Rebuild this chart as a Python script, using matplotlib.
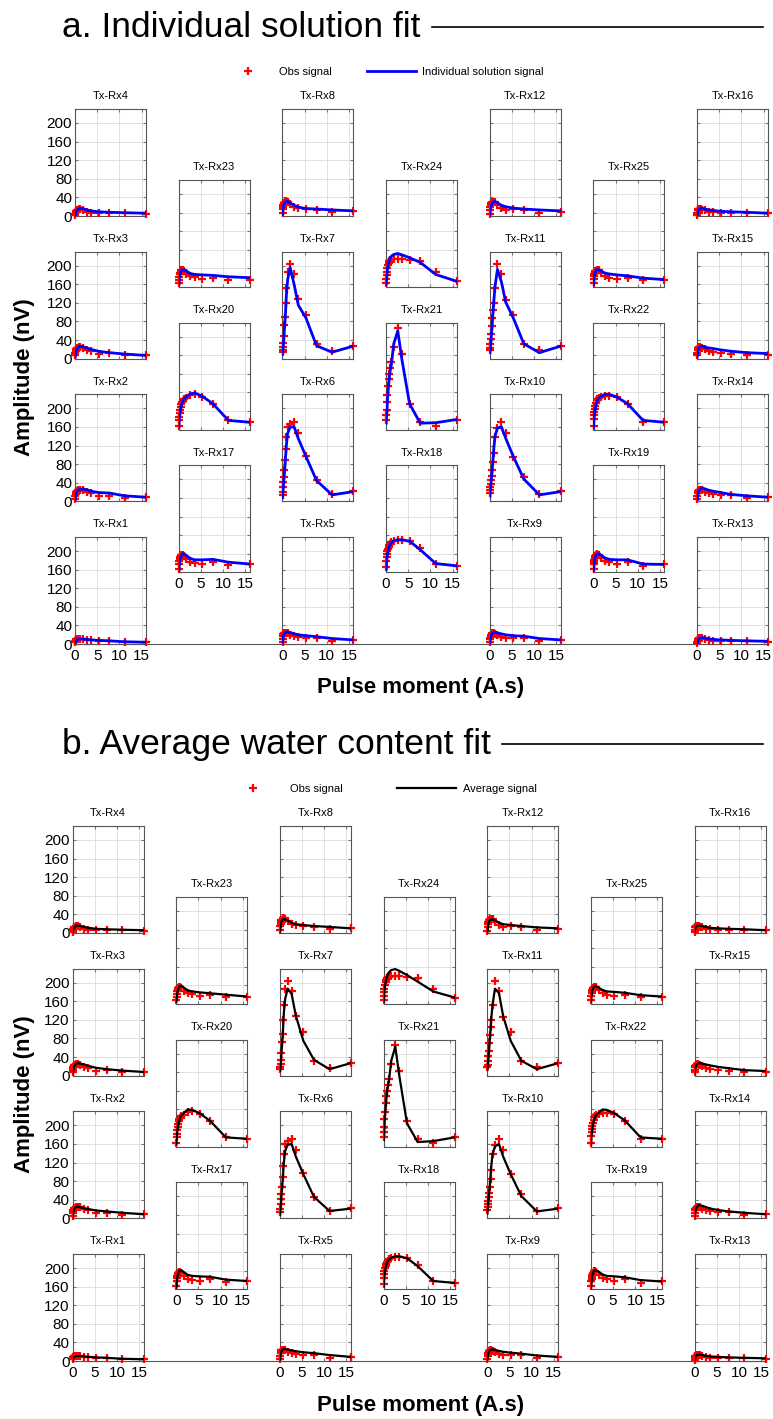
import matplotlib.pyplot as plt
from matplotlib.lines import Line2D

plt.rcParams['font.family'] = ['Liberation Sans', 'DejaVu Sans']

W, H = 773, 1419  # figure size in pixels

# pulse moments (A.s)
q = [0.05, 0.1, 0.15, 0.22, 0.3, 0.45, 0.6, 0.75, 0.9, 1.2, 1.75, 2.65, 3.6, 5.3, 7.7, 11.2, 16.0]

# receiver number shown in each column, top to bottom
columns = [[4, 3, 2, 1], [23, 20, 17], [8, 7, 6, 5], [24, 21, 18],
           [12, 11, 10, 9], [25, 22, 19], [16, 15, 14, 13]]

x_ticks = [0, 5, 10, 15]
y_ticks = [0, 40, 80, 120, 160, 200]

obs_signal = {
    1: [4, 6, 8, 9, 10, 11, 11, 11, 11, 11, 10, 9, 9, 7, 7, 5, 4],
    2: [6, 11, 15, 18, 20, 22, 23, 24, 25, 25, 24, 21, 17, 12, 12, 8, 9],
    3: [7, 12, 16, 18, 20, 22, 23, 24, 25, 25, 23, 18, 16, 11, 12, 7, 9],
    4: [2, 5, 8, 9, 11, 12, 13, 13, 14, 14, 13, 9, 7, 6, 6, 7, 4],
    5: [5, 12, 18, 21, 23, 24, 24, 24, 24, 23, 20, 17, 16, 14, 13, 7, 9],
    6: [13, 20, 31, 42, 52, 68, 88, 112, 138, 160, 166, 171, 146, 97, 47, 15, 22],
    7: [14, 18, 25, 34, 48, 72, 90, 119, 153, 187, 203, 182, 128, 93, 32, 17, 28],
    8: [6, 14, 20, 24, 27, 29, 31, 32, 32, 30, 26, 19, 17, 15, 13, 8, 11],
    9: [5, 10, 14, 18, 20, 22, 23, 23, 23, 22, 19, 16, 14, 14, 13, 7, 9],
    10: [17, 24, 31, 38, 45, 55, 68, 85, 105, 139, 157, 171, 146, 96, 52, 15, 22],
    11: [18, 24, 32, 43, 54, 70, 88, 104, 119, 151, 203, 183, 127, 94, 31, 18, 27],
    12: [4, 12, 20, 24, 27, 29, 30, 31, 31, 30, 24, 17, 13, 14, 13, 7, 9],
    13: [2, 5, 9, 11, 12, 13, 13, 13, 13, 13, 11, 9, 7, 6, 6, 6, 5],
    14: [6, 12, 17, 20, 22, 24, 25, 25, 25, 24, 21, 17, 15, 13, 13, 7, 9],
    15: [7, 13, 18, 21, 23, 25, 25, 25, 24, 23, 20, 16, 14, 12, 11, 7, 9],
    16: [2, 7, 12, 13, 14, 14, 14, 14, 14, 13, 12, 9, 8, 7, 7, 6, 6],
    17: [7, 18, 25, 29, 33, 36, 37, 37, 37, 36, 29, 22, 20, 19, 22, 16, 18],
    18: [11, 25, 33, 40, 45, 50, 55, 59, 62, 65, 68, 70, 70, 68, 53, 18, 13],
    19: [7, 17, 22, 27, 31, 36, 38, 40, 40, 38, 32, 25, 22, 19, 22, 14, 18],
    20: [9, 20, 27, 35, 42, 49, 55, 59, 62, 65, 69, 74, 76, 70, 56, 20, 16],
    21: [20, 31, 42, 60, 75, 95, 108, 120, 132, 145, 178, 218, 162, 56, 17, 9, 20],
    22: [9, 24, 32, 38, 45, 52, 58, 63, 66, 68, 70, 72, 72, 70, 56, 17, 16],
    23: [8, 15, 22, 27, 31, 35, 37, 37, 37, 35, 29, 24, 21, 17, 19, 16, 16],
    24: [8, 18, 26, 33, 40, 48, 52, 55, 57, 59, 60, 61, 60, 58, 55, 33, 13],
    25: [9, 18, 24, 28, 31, 34, 35, 36, 37, 36, 30, 24, 19, 17, 19, 16, 16],
}

individual_signal = {
    1: [2, 4, 6, 7, 8, 9, 10, 10, 11, 11, 11, 10, 9, 8, 7, 5, 4],
    2: [4, 8, 12, 15, 18, 21, 23, 24, 25, 26, 27, 25, 22, 19, 18, 12, 9],
    3: [4, 8, 12, 15, 18, 21, 23, 25, 26, 27, 26, 23, 20, 16, 13, 10, 7],
    4: [1, 3, 6, 8, 10, 12, 14, 15, 16, 17, 16, 13, 11, 9, 8, 7, 6],
    5: [3, 7, 12, 16, 19, 22, 24, 25, 26, 26, 25, 22, 20, 18, 16, 12, 9],
    6: [8, 14, 22, 32, 42, 58, 76, 98, 120, 146, 160, 160, 135, 97, 45, 14, 21],
    7: [10, 14, 20, 28, 40, 60, 80, 105, 135, 170, 196, 160, 115, 88, 28, 14, 27],
    8: [3, 8, 14, 19, 23, 27, 30, 31, 32, 31, 28, 23, 19, 16, 15, 13, 11],
    9: [3, 7, 11, 15, 18, 21, 23, 24, 25, 25, 24, 22, 20, 18, 17, 12, 9],
    10: [10, 16, 24, 33, 42, 56, 72, 90, 110, 140, 158, 160, 136, 97, 48, 14, 21],
    11: [12, 16, 22, 30, 40, 58, 78, 98, 120, 155, 192, 165, 122, 88, 32, 13, 27],
    12: [2, 7, 12, 17, 21, 25, 28, 30, 31, 31, 28, 23, 20, 17, 15, 13, 11],
    13: [1, 3, 6, 8, 10, 12, 13, 14, 14, 14, 13, 11, 10, 9, 8, 7, 6],
    14: [3, 7, 12, 16, 20, 23, 25, 27, 28, 29, 27, 24, 22, 19, 15, 12, 9],
    15: [4, 8, 13, 17, 20, 23, 25, 26, 27, 27, 25, 23, 22, 19, 16, 13, 11],
    16: [1, 4, 7, 10, 12, 14, 15, 16, 17, 17, 15, 13, 12, 10, 9, 8, 6],
    17: [4, 10, 16, 22, 27, 33, 36, 38, 40, 40, 36, 30, 27, 27, 28, 22, 18],
    18: [6, 14, 22, 30, 37, 45, 51, 56, 60, 64, 68, 70, 70, 67, 49, 19, 14],
    19: [4, 10, 16, 22, 28, 34, 37, 39, 40, 40, 37, 31, 28, 27, 27, 18, 17],
    20: [5, 14, 22, 30, 37, 45, 52, 57, 61, 66, 71, 77, 79, 72, 56, 20, 16],
    21: [14, 22, 32, 45, 60, 80, 98, 112, 125, 140, 185, 212, 150, 56, 14, 15, 22],
    22: [5, 14, 22, 30, 37, 45, 52, 58, 63, 68, 72, 76, 76, 70, 56, 20, 16],
    23: [5, 10, 16, 22, 27, 32, 35, 37, 37, 37, 34, 29, 27, 26, 25, 22, 20],
    24: [5, 12, 20, 28, 36, 45, 52, 57, 61, 66, 70, 72, 69, 63, 53, 27, 12],
    25: [5, 11, 17, 23, 28, 32, 35, 37, 38, 37, 34, 30, 28, 26, 24, 19, 16],
}

average_signal = {
    1: [2, 4, 6, 7, 8, 9, 10, 10, 11, 11, 11, 10, 9, 8, 7, 5, 4],
    2: [4, 8, 12, 15, 18, 21, 23, 24, 25, 25, 24, 22, 20, 17, 15, 12, 9],
    3: [4, 8, 12, 15, 18, 21, 23, 25, 26, 27, 26, 24, 21, 17, 14, 11, 8],
    4: [1, 3, 6, 8, 10, 12, 14, 15, 16, 16, 15, 13, 11, 9, 8, 7, 6],
    5: [3, 7, 12, 16, 19, 22, 24, 25, 26, 26, 25, 23, 21, 19, 17, 13, 9],
    6: [8, 14, 22, 32, 42, 58, 76, 98, 120, 145, 158, 160, 133, 95, 46, 16, 21],
    7: [10, 14, 20, 28, 40, 60, 80, 105, 135, 165, 187, 176, 129, 75, 34, 14, 27],
    8: [3, 8, 14, 19, 23, 26, 28, 29, 30, 29, 27, 22, 19, 17, 15, 13, 10],
    9: [3, 7, 11, 15, 18, 21, 23, 24, 25, 25, 24, 22, 20, 18, 16, 12, 9],
    10: [10, 16, 24, 33, 42, 56, 72, 90, 110, 138, 155, 160, 133, 95, 48, 15, 21],
    11: [12, 16, 22, 30, 40, 58, 78, 98, 120, 152, 187, 178, 128, 75, 32, 14, 27],
    12: [2, 7, 12, 17, 21, 25, 27, 28, 29, 29, 27, 22, 19, 17, 15, 12, 10],
    13: [1, 3, 6, 8, 10, 12, 13, 14, 14, 14, 13, 11, 10, 9, 8, 7, 6],
    14: [3, 7, 12, 16, 20, 23, 25, 27, 28, 28, 27, 24, 21, 18, 15, 12, 9],
    15: [4, 8, 13, 17, 20, 23, 25, 26, 27, 27, 26, 24, 22, 19, 16, 12, 10],
    16: [1, 4, 7, 10, 12, 14, 15, 16, 16, 16, 15, 13, 11, 10, 9, 8, 6],
    17: [4, 10, 16, 22, 28, 34, 38, 40, 41, 41, 37, 31, 29, 28, 27, 21, 18],
    18: [6, 14, 22, 30, 37, 45, 51, 56, 60, 64, 68, 71, 71, 67, 50, 18, 14],
    19: [4, 10, 16, 22, 28, 34, 38, 40, 41, 41, 38, 32, 29, 28, 26, 20, 17],
    20: [5, 14, 22, 30, 37, 45, 52, 57, 62, 67, 73, 80, 79, 72, 55, 20, 17],
    21: [14, 22, 32, 45, 60, 80, 98, 112, 125, 140, 185, 215, 150, 50, 10, 12, 20],
    22: [5, 14, 22, 30, 37, 45, 52, 58, 63, 68, 73, 80, 79, 72, 56, 20, 17],
    23: [5, 10, 16, 22, 27, 32, 35, 38, 39, 39, 35, 29, 27, 25, 23, 20, 16],
    24: [5, 12, 20, 28, 36, 45, 52, 58, 63, 68, 73, 75, 71, 62, 48, 27, 14],
    25: [5, 11, 17, 23, 28, 32, 35, 37, 39, 38, 35, 30, 27, 26, 24, 19, 16],
}


def fig_box(x, y, w, h):
    # pixel box (top-left origin) -> figure fraction rect
    return [x / W, 1 - (y + h) / H, w / W, h / H]


def draw_panel(fig, dx, dy, model, color, lw, title, line_x0, model_label, leg_opts):
    # background frame carrying the shared bottom line
    bg = fig.add_axes(fig_box(75 + dx, 109 + dy, 693, 535), zorder=0)
    bg.set_facecolor('none')
    for side in ['top', 'left', 'right']:
        bg.spines[side].set_visible(False)
    bg.spines['bottom'].set_color('#555555')
    bg.spines['bottom'].set_linewidth(0.8)
    bg.set_xticks([])
    bg.set_yticks([])

    for c, rxs in enumerate(columns):
        for r, rx in enumerate(rxs):
            top = (109 if c % 2 == 0 else 180) + 142.7 * r + dy
            left = 75 + 103.67 * c + dx
            ax = fig.add_axes(fig_box(left, top, 71, 107), zorder=1)
            ax.plot(q, obs_signal[rx], '+', color='red', ms=6, mew=1.6, clip_on=False, zorder=3)
            ax.plot(q, model[rx], '-', color=color, lw=lw, zorder=4)
            ax.set_xlim(0, 16)
            ax.set_ylim(0, 230)
            ax.set_xticks(x_ticks)
            ax.set_yticks(y_ticks)
            ax.grid(True, color='#dcdcdc', lw=0.6)
            ax.set_axisbelow(True)
            ax.tick_params(direction='in', length=2, top=True, right=True,
                           labelsize=11, color='#777777')
            ax.tick_params(axis='x', pad=3.5)
            ax.tick_params(axis='y', pad=2)
            for s in ax.spines.values():
                s.set_color('#555555')
                s.set_linewidth(0.8)
            if c != 0:
                ax.set_yticklabels([])
            if r != len(rxs) - 1:
                ax.set_xticklabels([])
            ax.set_title('Tx-Rx%d' % rx, fontsize=8, pad=7)

    # panel title with trailing rule
    fig.text(62 / W, 1 - (37 + dy) / H, title, fontsize=25.5, ha='left', va='baseline')
    fig.add_artist(Line2D([line_x0 / W, 763 / W], [1 - (27 + dy) / H] * 2,
                          color='black', lw=1.2, transform=fig.transFigure))

    handles = [Line2D([], [], ls='none', marker='+', color='red', ms=6, mew=1.6),
               Line2D([], [], color=color, lw=lw)]
    fig.legend(handles, ['Obs signal', model_label], loc='center left',
               bbox_to_anchor=(224 / W, 1 - (72 + dy) / H), ncol=2, frameon=False,
               fontsize=8, borderpad=0, borderaxespad=0, **leg_opts)

    fig.text(25 / W, 1 - (377 + dy) / H, 'Amplitude (nV)', fontsize=16, fontweight='bold',
             rotation=90, ha='center', va='center')
    fig.text(421 / W, 1 - (688 + dy) / H, 'Pulse moment (A.s)', fontsize=16,
             fontweight='bold', ha='center', va='center')


fig = plt.figure(figsize=(W / 100, H / 100), dpi=100)

draw_panel(fig, 0, 0, individual_signal, 'blue', 2.0, 'a. Individual solution fit', 432,
           'Individual solution signal',
           dict(handlelength=4.4, handletextpad=0.55, columnspacing=3.2))
draw_panel(fig, -2.5, 717, average_signal, 'black', 1.6, 'b. Average water content fit', 502,
           'Average signal',
           dict(handlelength=5.3, handletextpad=0.65, columnspacing=4.9))

fig.savefig('out.png', dpi=100)
